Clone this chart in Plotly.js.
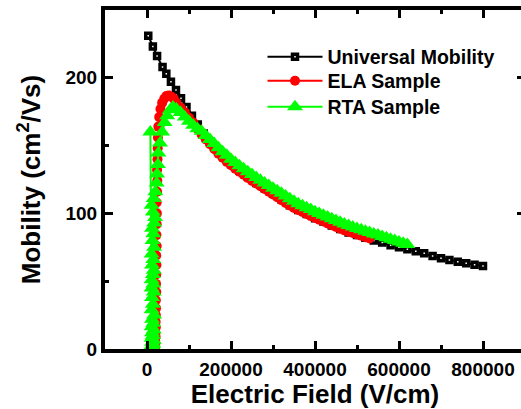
<!DOCTYPE html>
<html>
<head>
<meta charset="utf-8">
<script src="https://cdn.plot.ly/plotly-3.0.1.min.js"></script>
<style>
html,body{margin:0;padding:0;overflow:hidden;background:#fff;}
#chart{width:526px;height:409px;}
</style>
</head>
<body>
<div id="chart"></div>
<script>
// Universal Mobility
const uniE = [3000,14000,24000,37000,46000,57000,69000,81000,94000,107000,121000,135000,150000,165000,180000,
  200000,220000,240000,260000,280000,300000,320000,340000,360000,380000,400000,420000,440000,460000,480000,
  500000,520000,540000,560000,580000,600000,620000,640000,660000,680000,700000,720000,740000,760000,780000,800000];
const uniMu = [231,223,216,208,203,197,191,185,178.5,172,165.5,159,153,147.5,142.5,
  136.5,131.5,127,122.5,118.5,114.5,110.5,106,102.5,99.5,96.5,94,91,88.5,86,
  84,82,80,78.5,76.5,75,73.5,72,70.6,68.6,67,65.7,64.4,63.2,62.2,61.3];

// ELA Sample
const elaE = [19000,19500,20000,19500,20500,20000,21000,20500,21000,21500,21000,22000,21500,22000,22500,22000,23000,22500,23000,23500,23000,24000,24500,24000,25000,25500,26000,27000,29000,32000,36000,41000,46000,52000,58000,64000,70000,
  80000,90000,100000,110000,120000,130000,140000,150000,160000,170000,180000,190000,200000,210000,220000,230000,240000,250000,260000,270000,280000,290000,300000,
  310000,320000,330000,340000,350000,360000,370000,380000,390000,400000,410000,420000,430000,440000,450000,460000,470000,480000,490000,500000,510000,520000,530000,540000];
const elaMu = [0.5,2,4,6,9,12,16,20,25,30,36,42,48,55,62,69,76,84,92,100,108,116,124,132,140,148,156,164,171,177,181.5,184.5,186.5,187,186,184.5,
  181.5,178,174.5,170.5,167,162.5,158.2,154.5,151,147.5,144,141,138,135.5,133,130.7,128.5,126.2,124,122,120,118,116,
  114,112,109.8,107.7,105.8,104,102.5,101,99.5,98,96.7,95.4,94,92.6,91.3,90,88.7,87.5,86.5,85.5,84.5,83.5,82.5,81.5];

// RTA Sample
const rtaE = [8000,12000,14000,11000,15000,12000,16000,11000,14000,12000,16000,11000,15000,12000,17000,11000,14000,12000,16000,11000,15000,11000,14000,16000,12000,15000,11000,17000,13000,15000,12000,17000,19000,14000,11000,16000,20000,23000,24000,26000,27000,31000,36000,42000,48000,55000,62000,
  70000,80000,90000,100000,110000,120000,130000,140000,150000,160000,170000,180000,190000,200000,210000,220000,230000,240000,250000,260000,270000,280000,290000,300000,
  310000,320000,330000,340000,350000,360000,370000,380000,390000,400000,410000,420000,430000,440000,450000,460000,470000,480000,490000,500000,
  510000,520000,530000,540000,550000,560000,570000,580000,590000,600000,610000,620000];
const rtaMu = [160,0.5,1.5,2.5,3.5,5,6.5,8,10,12,14,16.5,19,22,25,29,33,38,42,45,48,51,55,58,62,66,70,75,80,85,89,93,97,101,106,111,116,122.5,129,136,144.5,152,160,167,172,176.5,178.5,
  177,174.5,171,168,165,162.5,160.5,157.5,154.5,151.5,148.5,145.5,142.8,140,137.5,135.2,133,130.8,128.6,126.5,124.5,122.5,120.5,118.6,
  116.7,114.8,112.8,110.8,109,107.2,105.7,104.2,102.8,101.3,100,98.7,97.3,96,94.7,93.4,92.1,91,89.9,88.9,
  87.9,86.9,85.9,84.9,84,83,82,81,80,79,78,77];

const xTicks = [0,200000,400000,600000,800000];
const xTickText = ['0','200000','400000','600000','800000'];
const yTicks = [0,100,200];

const FONT = 'Liberation Sans, Arial, Helvetica, sans-serif';

const traces = [
  {x: uniE, y: uniMu, name: 'Universal Mobility', mode: 'lines+markers', legend: 'legend',
   line: {color: '#000000', width: 2},
   marker: {symbol: 'square', size: 5, color: '#ffffff', line: {color: '#000000', width: 3.5}}},
  {x: elaE, y: elaMu, name: 'ELA Sample', mode: 'lines+markers', legend: 'legend2',
   line: {color: '#ff0000', width: 2},
   marker: {symbol: 'circle', size: 10, color: '#ff0000'}},
  {x: rtaE, y: rtaMu, name: 'RTA Sample', mode: 'lines+markers', legend: 'legend3',
   line: {color: '#00ff00', width: 2},
   marker: {symbol: 'triangle-up', size: 14, color: '#00ff00'}}
];

const axisCommon = {
  showgrid: false, zeroline: false, showline: true, linecolor: '#000', linewidth: 4,
  mirror: 'ticks', ticks: 'inside', ticklen: 8, tickwidth: 3, tickcolor: '#000',
  tickfont: {family: FONT, size: 19, color: '#000', weight: 'bold'}
};

function legendAt(yPaper) {
  return {
    x: 0.375, y: yPaper, xanchor: 'left', yanchor: 'middle',
    bgcolor: 'rgba(0,0,0,0)', borderwidth: 0, itemwidth: 55,
    font: {family: FONT, size: 19.5, color: '#000', weight: 'bold'}
  };
}

const layout = {
  width: 526, height: 409,
  margin: {l: 105, r: 1, t: 10, b: 60},
  paper_bgcolor: '#fff', plot_bgcolor: '#fff',
  showlegend: true,
  xaxis: Object.assign({}, axisCommon, {
    range: [-100000, 900000], tickvals: xTicks, ticktext: xTickText,
    minor: {ticks: 'inside', ticklen: 4, tickwidth: 3, tickcolor: '#000', dtick: 100000, tick0: 0},
    title: {text: 'Electric Field (V/cm)', standoff: 6, font: {family: FONT, size: 26, color: '#000', weight: 'bold'}}
  }),
  yaxis: Object.assign({}, axisCommon, {
    range: [0, 250], tickvals: yTicks,
    minor: {ticks: 'inside', ticklen: 4, tickwidth: 3, tickcolor: '#000', dtick: 50, tick0: 0},
    title: {text: 'Mobility (cm<sup>2</sup>/Vs)', standoff: 18, font: {family: FONT, size: 26, color: '#000', weight: 'bold'}}
  }),
  legend: legendAt(0.8614),
  legend2: legendAt(0.7906),
  legend3: legendAt(0.7139)
};

Plotly.newPlot('chart', traces, layout, {displayModeBar: false, staticPlot: true});
</script>
</body>
</html>
